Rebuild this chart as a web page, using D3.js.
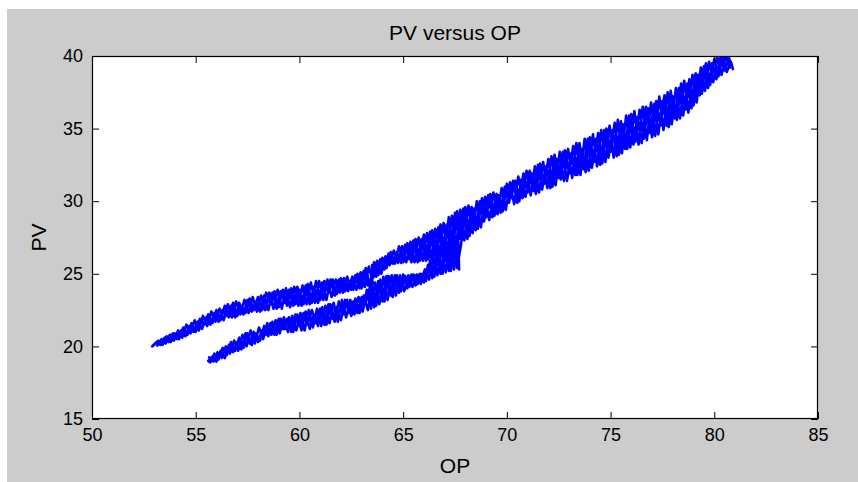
<!DOCTYPE html>
<html>
<head>
<meta charset="utf-8">
<script src="https://cdn.jsdelivr.net/npm/d3@7"></script>
<style>
  html, body { margin: 0; padding: 0; background: #ffffff; }
  svg { display: block; }
  text { font-family: "Liberation Sans", Arial, sans-serif; fill: #000; }
</style>
</head>
<body>
<div id="chart"></div>
<script>
// ---- Data (OP, PV) estimated from the reference trace ----
const xTicks = [50, 55, 60, 65, 70, 75, 80, 85];
const yTicks = [15, 20, 25, 30, 35, 40];
const titleText = "PV versus OP";
const xLabel = "OP";
const yLabel = "PV";

const upperThird = [
  [53.15,20.05],[53.35,20.5],[53.55,20.2],[53.75,20.8],[53.95,20.4],[54.15,21.1],[54.35,20.6],[54.55,21.5],
  [54.75,20.9],[54.95,21.8],[55.15,21.1],[55.35,22.1],[55.55,21.4],[55.75,22.4],[55.95,21.7],[56.15,22.6],
  [56.35,21.8],[56.55,22.9],[56.75,22.0],[56.95,23.1],[57.15,22.2],[57.35,23.2],[57.55,22.3],[57.75,23.4],
  [57.95,22.4],[58.15,23.5],[58.35,22.5],[58.55,23.7],[58.75,22.6],[58.95,23.9],[59.15,22.6],[59.35,24.0],
  [59.55,22.7],[59.75,24.1],[59.95,22.8],[60.15,24.2],[60.35,22.9],[60.55,24.4],[60.75,23.0],[60.95,24.5],
  [61.15,23.2],[61.35,24.6],[61.55,23.4],[61.75,24.6],[61.95,23.7],[62.15,24.7],[62.35,23.8],[62.55,24.8],
  [62.75,23.9],[62.95,25.1],[63.15,24.1],[63.35,25.5],[63.55,24.3]
];

const upperDown = [
  [63.3,24.2],[63.1,25.2],[62.9,24.0],[62.7,24.9],[62.5,23.9],[62.3,24.8],[62.1,23.7],[61.9,24.6],
  [61.7,23.5],[61.5,24.6],[61.3,23.2],[61.1,24.4],[60.9,23.0],[60.7,24.1],[60.5,22.9],[60.3,24.2],
  [60.1,22.8],[59.9,24.1],[59.7,22.8],[59.5,23.9],[59.3,23.0],[59.1,23.8],[58.9,22.6],[58.7,23.7],
  [58.5,22.5],[58.3,23.5],[58.1,22.4],[57.9,23.1],[57.7,22.4],[57.5,23.2],[57.3,22.2],[57.1,23.0],
  [56.9,22.0],[56.7,22.8],[56.5,22.1],[56.3,22.5],[56.1,21.7],[55.9,22.3],[55.7,21.5],[55.5,22.0],
  [55.3,21.2],[55.1,21.7],[54.9,21.0],[54.7,21.4],[54.5,20.7],[54.3,21.1],[54.1,20.5],[53.9,20.9],
  [53.7,20.3],[53.5,20.6],[53.3,20.1],[53.1,20.3],[52.9,20.0]
];

const upperUp = [
  [53.0,20.1],[53.2,20.4],[53.4,20.1],[53.6,20.7],[53.8,20.3],[54.0,20.9],[54.2,20.5],[54.4,21.3],
  [54.6,20.8],[54.8,21.6],[55.0,21.0],[55.2,21.9],[55.4,21.5],[55.6,22.2],[55.8,21.6],[56.0,22.5],
  [56.2,21.8],[56.4,22.8],[56.6,22.0],[56.8,23.0],[57.0,22.1],[57.2,22.8],[57.4,22.3],[57.6,23.3],
  [57.8,22.5],[58.0,23.4],[58.2,22.5],[58.4,23.7],[58.6,22.9],[58.8,23.8],[59.0,22.7],[59.2,23.9],
  [59.4,22.8],[59.6,24.0],[59.8,22.9],[60.0,23.9],[60.2,22.9],[60.4,24.3],[60.6,23.0],[60.8,24.5],
  [61.0,23.2],[61.2,24.5],[61.4,23.7],[61.6,24.6],[61.8,23.6],[62.0,24.7],[62.2,23.8],[62.4,24.5],
  [62.6,23.9],[62.8,25.0],[63.0,24.0],[63.2,25.4],[63.4,24.2],[63.6,25.8]
];

const mergeUp = [
  [63.8,24.9],[64.0,26.1],[64.2,25.4],[64.4,26.5],[64.6,25.7],[64.8,26.9],[65.0,25.8],[65.2,27.1],
  [65.4,25.8],[65.6,27.4],[65.8,25.9],[66.0,27.7],[66.2,26.0],[66.4,28.0],[66.6,26.2],[66.8,28.4],
  [67.0,26.4],[67.2,28.9],[67.4,26.7],[67.6,29.3]
];

const lowerDown = [
  [67.7,25.3],[67.5,27.0],[67.3,25.2],[67.1,26.9],[66.9,25.0],[66.7,26.5],[66.5,24.8],[66.3,25.9],
  [66.1,24.5],[65.9,25.0],[65.7,24.3],[65.5,24.95],[65.3,24.1],[65.1,24.85],[64.9,23.8],[64.7,24.9],
  [64.5,23.4],[64.3,24.85],
  [64.1,23.1],[63.9,24.6],[63.7,22.8],[63.5,24.2],[63.3,22.5],[63.1,23.5],[62.9,22.3],[62.7,23.3],
  [62.5,22.1],[62.3,23.2],[62.1,22.2],[61.9,23.1],[61.7,21.7],[61.5,22.9],[61.3,21.5],[61.1,22.7],
  [60.9,21.4],[60.7,22.2],[60.5,21.2],[60.3,22.4],[60.1,21.1],[59.9,22.2],[59.7,21.0],[59.5,22.0],
  [59.3,21.2],[59.1,21.9],[58.9,20.8],[58.7,21.7],[58.5,20.7],[58.3,21.4],[58.1,20.4],[57.9,20.9],
  [57.7,20.1],[57.5,20.9],[57.3,19.9],[57.1,20.6],[56.9,19.7],[56.7,20.3],[56.5,19.4],[56.3,19.9],
  [56.1,19.1],[55.9,19.5],[55.7,18.9]
];

const lowerUp = [
  [55.6,19.0],[55.8,19.3],[56.0,18.95],[56.2,19.7],[56.4,19.2],[56.6,20.1],[56.8,19.6],[57.0,20.3],
  [57.2,19.8],[57.4,20.9],[57.6,20.2],[57.8,21.0],[58.0,20.3],[58.2,21.1],[58.4,20.8],[58.6,21.6],
  [58.8,20.8],[59.0,21.9],[59.2,21.2],[59.4,21.9],[59.6,21.0],[59.8,22.2],[60.0,21.4],[60.2,22.3],
  [60.4,21.5],[60.6,22.5],[60.8,21.6],[61.0,22.6],[61.2,21.5],[61.4,22.9],[61.6,21.9],[61.8,22.7],
  [62.0,21.8],[62.2,23.2],[62.4,22.3],[62.6,23.1],[62.8,22.3],[63.0,23.4],[63.2,23.0],[63.4,24.1],
  [63.6,22.7],[63.8,24.5],[64.0,23.1],[64.2,24.85],[64.4,23.5],[64.6,24.9],[64.8,23.7],[65.0,24.95],
  [65.2,24.0],[65.4,24.95],[65.6,24.2],[65.8,25.0],[66.0,24.4],[66.2,25.6],[66.4,24.7],[66.6,26.4],
  [66.8,25.0],[67.0,26.8],[67.2,25.2],[67.4,26.9],[67.6,25.4]
];

const mainUp = [
  [67.8,27.1],[68.0,29.6],[68.2,27.6],[68.4,29.5],[68.6,28.1],[68.8,30.2],[69.0,28.9],[69.2,30.5],
  [69.4,29.0],[69.6,30.4],[69.8,29.3],[70.0,31.2],[70.2,30.2],[70.4,31.4],[70.6,30.0],[70.8,31.9],
  [71.0,30.6],[71.2,31.9],[71.4,30.5],[71.6,32.6],[71.8,31.2],[72.0,32.9],[72.2,31.0],[72.4,32.9],
  [72.6,31.5],[72.8,33.5],[73.0,31.9],[73.2,33.8],[73.4,31.8],[73.6,33.6],[73.8,32.0],[74.0,34.4],
  [74.2,32.7],[74.4,34.7],[74.6,32.6],[74.8,35.0],[75.0,33.4],[75.2,35.4],[75.4,33.2],[75.6,35.3],
  [75.8,33.6],[76.0,36.0],[76.2,34.1],[76.4,36.3],[76.6,34.3],[76.8,36.4],[77.0,34.4],[77.2,36.9],
  [77.4,35.2],[77.6,37.3],[77.8,35.1],[78.0,37.2],[78.2,35.6],[78.4,38.1],[78.6,36.3],[78.8,38.4],
  [79.0,36.6],[79.2,38.7],[79.4,37.4],[79.6,39.5],[79.8,38.0],[80.0,39.8],[80.2,38.6],[80.4,40.0],
  [80.6,38.9],[80.8,39.6],[80.9,39.1]
];

const mainDown = [
  [80.7,39.9],[80.5,39.0],[80.3,39.9],[80.1,38.4],[79.9,39.5],[79.7,37.8],[79.5,39.3],[79.3,37.3],
  [79.1,38.8],[78.9,36.4],[78.7,38.1],[78.5,35.9],[78.3,37.8],[78.1,35.7],[77.9,37.6],[77.7,35.2],
  [77.5,36.9],[77.3,34.6],[77.1,36.7],[76.9,34.7],[76.7,36.5],[76.5,34.0],[76.3,35.8],[76.1,33.9],
  [75.9,35.9],[75.7,33.6],[75.5,35.5],[75.3,33.1],[75.1,34.9],[74.9,33.0],[74.7,34.9],[74.5,32.5],
  [74.3,34.3],[74.1,32.3],[73.9,34.3],[73.7,32.2],[73.5,34.0],[73.3,31.8],[73.1,33.3],[72.9,31.4],
  [72.7,33.4],[72.5,31.6],[72.3,33.2],[72.1,30.9],[71.9,32.4],[71.7,30.8],[71.5,32.5],[71.3,30.7],
  [71.1,32.1],[70.9,30.3],[70.7,31.5],[70.5,29.9],[70.3,31.4],[70.1,29.9],[69.9,31.0],[69.7,29.2],
  [69.5,30.5],[69.3,28.9],[69.1,30.4],[68.9,28.6],[68.7,30.0],[68.5,28.0],[68.3,29.6],[68.1,27.4],
  [67.9,29.5],[67.7,27.4],[67.5,29.2],[67.3,26.7],[67.1,28.4],[66.9,26.4],[66.7,28.2],[66.5,26.3],
  [66.3,27.9],[66.1,25.9],[65.9,27.4],[65.7,25.8],[65.5,27.3],[65.3,26.0],[65.1,27.0],[64.9,25.75],
  [64.7,26.5],[64.5,25.7],[64.3,26.4],[64.1,25.3],[63.9,26.0],[63.7,24.8],[63.5,25.6]
];

const mainThird = [
  [63.55,24.7],[63.75,25.9],[63.95,25.0],[64.15,26.2],[64.35,25.6],[64.55,26.6],[64.75,25.75],[64.95,26.9],
  [65.15,25.8],[65.35,27.2],[65.55,25.8],[65.75,27.5],[65.95,25.9],[66.15,27.8],[66.35,26.0],[66.55,28.1],
  [66.75,26.3],[66.95,28.5],[67.15,26.5],[67.35,29.0],[67.55,26.9],[67.75,29.4],[67.95,27.3],[68.15,29.7],
  [68.35,27.8],[68.55,30.0],[68.75,28.2],[68.95,30.3],[69.15,28.7],[69.35,30.6],[69.55,29.1],[69.75,30.9],
  [69.95,29.4],[70.15,31.3],[70.35,29.8],[70.55,31.7],[70.75,30.2],[70.95,32.1],[71.15,30.4],[71.35,32.4],
  [71.55,30.6],[71.75,32.7],[71.95,30.9],[72.15,33.1],[72.35,31.1],[72.55,33.4],[72.75,31.4],[72.95,33.6],
  [73.15,31.6],[73.35,34.0],[73.55,31.8],[73.75,34.3],[73.95,32.1],[74.15,34.6],[74.35,32.4],[74.55,34.9],
  [74.75,32.7],[74.95,35.2],[75.15,33.0],[75.35,35.6],[75.55,33.3],[75.75,35.9],[75.95,33.7],[76.15,36.2],
  [76.35,33.9],[76.55,36.5],[76.75,34.2],[76.95,36.8],[77.15,34.5],[77.35,37.2],[77.55,34.9],[77.75,37.5],
  [77.95,35.3],[78.15,37.8],[78.35,35.7],[78.55,38.3],[78.75,36.1],[78.95,38.7],[79.15,36.8],[79.35,39.2],
  [79.55,37.6],[79.75,39.6],[79.95,38.2],[80.15,39.9],[80.35,38.7],[80.55,40.0],[80.75,39.2]
];

const lowerThird = [
  [55.65,19.25],[55.85,18.95],[56.05,19.6],[56.25,19.2],[56.45,20.0],[56.65,19.5],[56.85,20.4],[57.05,19.7],
  [57.25,20.8],[57.45,20.0],[57.65,21.1],[57.85,20.2],[58.05,21.3],[58.25,20.5],[58.45,21.6],[58.65,20.8],
  [58.85,21.8],[59.05,20.9],[59.25,22.0],[59.45,21.0],[59.65,22.1],[59.85,21.1],[60.05,22.3],[60.25,21.1],
  [60.45,22.5],[60.65,21.3],[60.85,22.6],[61.05,21.4],[61.25,22.8],[61.45,21.6],[61.65,23.0],[61.85,21.7],
  [62.05,23.2],[62.25,22.0],[62.45,23.2],[62.65,22.2],[62.85,23.4],[63.05,22.4],[63.25,23.9],[63.45,22.6],
  [63.65,24.4],[63.85,22.9],[64.05,24.8],[64.25,23.2],[64.45,24.9],[64.65,23.5],[64.85,24.9],[65.05,23.8],
  [65.25,24.9],[65.45,24.1],[65.65,24.95],[65.85,24.3],[66.05,25.3],[66.25,24.6],[66.45,26.2],[66.65,24.9],
  [66.85,26.7],[67.05,25.1],[67.25,26.8],[67.45,25.3],[67.65,27.2]
];

const trace = [...upperThird, ...upperDown, ...upperUp, ...mergeUp, ...lowerDown,
               ...lowerUp, ...mainUp, ...mainDown, ...mainThird];
const traces = [trace, lowerThird];

// ---- Layout ----
const W = 858, H = 482;
const plot = { left: 92, right: 818, top: 56, bottom: 419 };
const tickLen = 7;

const svg = d3.select("#chart").append("svg").attr("width", W).attr("height", H);

svg.append("rect").attr("x", 0).attr("y", 0).attr("width", W).attr("height", H).attr("fill", "#ffffff");
svg.append("rect").attr("x", 7).attr("y", 9).attr("width", W - 7).attr("height", H - 9).attr("fill", "#cccccc");

const x = d3.scaleLinear().domain([50, 85]).range([plot.left, plot.right]);
const y = d3.scaleLinear().domain([15, 40]).range([plot.bottom, plot.top]);

svg.append("rect")
  .attr("x", plot.left).attr("y", plot.top)
  .attr("width", plot.right - plot.left).attr("height", plot.bottom - plot.top)
  .attr("fill", "#ffffff");

svg.append("clipPath").attr("id", "clip").append("rect")
  .attr("x", plot.left).attr("y", plot.top)
  .attr("width", plot.right - plot.left).attr("height", plot.bottom - plot.top);

const line = d3.line().x(d => x(d[0])).y(d => y(d[1]));
svg.append("g").attr("clip-path", "url(#clip)")
  .selectAll("path").data(traces).join("path")
  .attr("fill", "none")
  .attr("stroke", "#0000ff")
  .attr("stroke-width", 2.6)
  .attr("stroke-linejoin", "round")
  .attr("stroke-linecap", "round")
  .attr("d", line);

function styleAxis(g) {
  g.select(".domain").remove();
  g.selectAll(".tick line").attr("stroke", "#000").attr("stroke-width", 1);
  g.selectAll(".tick text").attr("font-size", 18).attr("font-family", "Liberation Sans, Arial, sans-serif").attr("fill", "#000");
}

svg.append("g").attr("transform", `translate(0,${plot.bottom})`)
  .call(d3.axisBottom(x).tickValues(xTicks).tickFormat(d3.format("d")).tickSize(-tickLen).tickPadding(9))
  .call(styleAxis);
svg.append("g").attr("transform", `translate(0,${plot.top})`)
  .call(d3.axisTop(x).tickValues(xTicks).tickFormat("").tickSize(-tickLen))
  .call(styleAxis);
svg.append("g").attr("transform", `translate(${plot.left},0)`)
  .call(d3.axisLeft(y).tickValues(yTicks).tickFormat(d3.format("d")).tickSize(-tickLen).tickPadding(9))
  .call(styleAxis);
svg.append("g").attr("transform", `translate(${plot.right},0)`)
  .call(d3.axisRight(y).tickValues(yTicks).tickFormat("").tickSize(-tickLen))
  .call(styleAxis);

svg.append("rect")
  .attr("x", plot.left + 0.5).attr("y", plot.top + 0.5)
  .attr("width", plot.right - plot.left - 1).attr("height", plot.bottom - plot.top - 1)
  .attr("fill", "none").attr("stroke", "#000").attr("stroke-width", 1.2);

svg.append("text").attr("x", (plot.left + plot.right) / 2).attr("y", 40)
  .attr("text-anchor", "middle").attr("font-size", 21).text(titleText);
svg.append("text").attr("x", (plot.left + plot.right) / 2).attr("y", 473)
  .attr("text-anchor", "middle").attr("font-size", 21).text(xLabel);
svg.append("text").attr("transform", `translate(46,${(plot.top + plot.bottom) / 2}) rotate(-90)`)
  .attr("text-anchor", "middle").attr("font-size", 21).text(yLabel);
</script>
</body>
</html>
